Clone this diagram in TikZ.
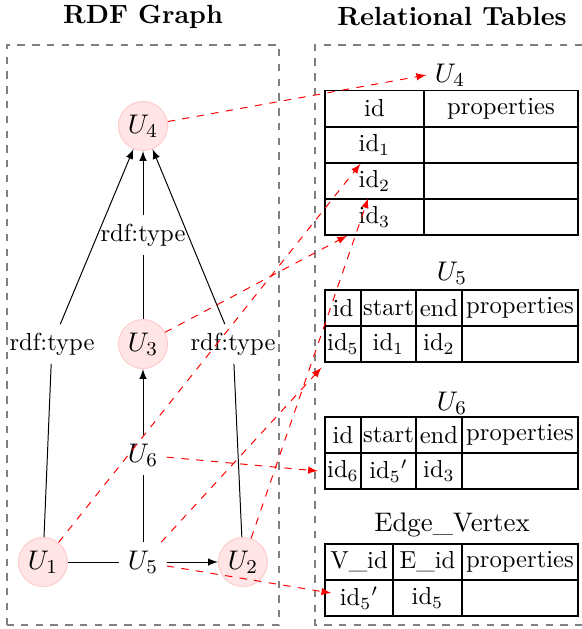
\documentclass[tikz,border=0pt]{standalone}
\usetikzlibrary{arrows}

\begin{document}
\begin{tikzpicture}[
		vertex/.style={circle, fill=red!10, draw=red!20, minimum size=0.7cm, inner sep=0pt},
		bigtext/.style={font=\fontsize{11.3}{13.6}\selectfont},
		cell/.style={draw, semithick, minimum height=0.514cm, inner sep=0pt},
		boxline/.style={dashed, gray, semithick},
		maplink/.style={dashed, red, -latex}
	]
	
	% Fix the picture size
	\useasboundingbox (0,0) rectangle (8.314,8.986);
	
	% Titles and frames
	\node[font=\bfseries, scale=1.07] (gtitle) at (2.043, 8.743) {RDF Graph};
	\node[font=\bfseries, scale=1.07] (rtitle) at (6.457, 8.743) {Relational Tables};
	\draw[boxline] (0.1, 0.057) rectangle (3.986, 8.343);
	\draw[boxline] (8.314, 8.343) -- (4.5, 8.343) -- (4.5, 0.057) -- (8.314, 0.057);
	
	% RDF graph vertices
	\node[vertex, bigtext] (U4) at (2.043, 7.186) {$U_4$};
	\node[vertex, bigtext] (U3) at (2.043, 4.071) {$U_3$};
	\node[vertex, bigtext] (U1) at (0.614, 0.957) {$U_1$};
	\node[vertex, bigtext] (U2) at (3.471, 0.957) {$U_2$};
	\node[bigtext] (U5) at (2.043, 0.957) {$U_5$};
	\node[bigtext] (U6) at (2.043, 2.486) {$U_6$};
	\node (tmid) at (2.043, 5.629) {rdf:type};
	\node (tleft) at (0.743, 4.071) {rdf:type};
	\node (tright) at (3.329, 4.071) {rdf:type};
	
	% RDF graph edges
	\draw (U1) -- (tleft);
	\draw[-latex] (tleft) -- (U4);
	\draw (U2) -- (tright);
	\draw[-latex] (tright) -- (U4);
	\draw (U3) -- (tmid);
	\draw[-latex] (tmid) -- (U4);
	\draw (U5) -- (U6);
	\draw[-latex] (U6) -- (U3);
	\draw (U1) -- (U5);
	\draw[-latex] (U5) -- (U2);
	
	% Table U4
	\node[bigtext] (t4) at (6.429, 7.914) {$U_4$};
	\node[cell, minimum width=1.414cm] (a0) at (5.35, 7.436) {id};
	\node[cell, minimum width=2.2cm] (p0) at (7.157, 7.436) {properties};
	\foreach \i/\y in {1/6.914, 2/6.4, 3/5.886} {
		\node[cell, minimum width=1.414cm] (a\i) at (5.35, \y) {id$_\i$};
		\node[cell, minimum width=2.2cm] (p\i) at (7.157, \y) {};
	}
	
	% Table U5
	\node[bigtext] (t5) at (6.457, 5.086) {$U_5$};
	\node[cell, minimum width=0.514cm] (b0) at (4.9, 4.586) {id};
	\node[cell, minimum width=0.786cm] (bs) at (5.55, 4.586) {start};
	\node[cell, minimum width=0.657cm] (be) at (6.271, 4.586) {end};
	\node[cell, minimum width=1.657cm] (bp) at (7.429, 4.586) {properties};
	\node[cell, minimum width=0.514cm] (b1) at (4.9, 4.071) {id$_5$};
	\node[cell, minimum width=0.786cm] (b2) at (5.55, 4.071) {id$_1$};
	\node[cell, minimum width=0.657cm] (b3) at (6.271, 4.071) {id$_2$};
	\node[cell, minimum width=1.657cm] (b4) at (7.429, 4.071) {};
	
	% Table U6
	\node[bigtext] (t6) at (6.457, 3.229) {$U_6$};
	\node[cell, minimum width=0.514cm] (c0) at (4.9, 2.771) {id};
	\node[cell, minimum width=0.786cm] (cs) at (5.55, 2.771) {start};
	\node[cell, minimum width=0.657cm] (ce) at (6.271, 2.771) {end};
	\node[cell, minimum width=1.657cm] (cp) at (7.429, 2.771) {properties};
	\node[cell, minimum width=0.514cm] (c1) at (4.9, 2.257) {id$_6$};
	\node[cell, minimum width=0.786cm] (c2) at (5.55, 2.257) {id$_5{}'$};
	\node[cell, minimum width=0.657cm] (c3) at (6.271, 2.257) {id$_3$};
	\node[cell, minimum width=1.657cm] (c4) at (7.429, 2.257) {};
	
	% Table Edge_Vertex
	\node[font=\fontsize{10.9}{13}\selectfont] (tev) at (6.457, 1.486) {Edge\_Vertex};
	\node[cell, minimum width=0.971cm] (d0) at (5.129, 0.957) {V\_id};
	\node[cell, minimum width=0.986cm] (de) at (6.107, 0.957) {E\_id};
	\node[cell, minimum width=1.657cm] (dp) at (7.429, 0.957) {properties};
	\node[cell, minimum width=0.971cm] (d1) at (5.129, 0.443) {id$_5{}'$};
	\node[cell, minimum width=0.986cm] (d2) at (6.107, 0.443) {id$_5$};
	\node[cell, minimum width=1.657cm] (d3) at (7.429, 0.443) {};
	
	% Mapping from graph to tables
	\draw[maplink] (U4) -- (t4.west);
	\draw[maplink] (U1) -- ([xshift=-0.2cm]a1.south);
	\draw[maplink] (U3) -- ([xshift=-0.39cm]a3.south);
	\draw[maplink] (U2) -- ([xshift=-0.09cm]a3.north);
	\draw[maplink] (U5) -- ([shift={(-0.04,-0.07)}]b1.south west);
	\draw[maplink] (U6) -- ([xshift=-0.09cm]c1.west);
	\draw[maplink] (U5) -- ([shift={(0.1,0.07)}]d1.west);
	
\end{tikzpicture}
\end{document}
